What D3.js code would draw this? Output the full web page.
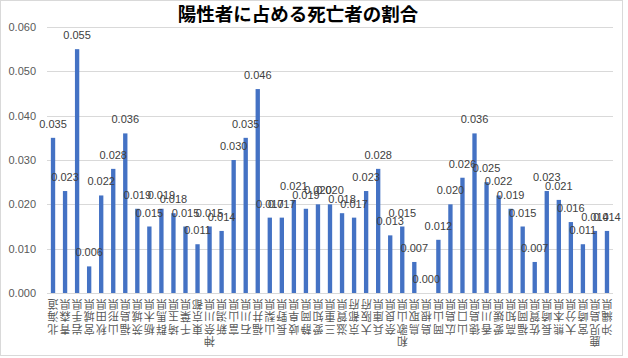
<!DOCTYPE html>
<html><head><meta charset="utf-8">
<script src="https://cdn.jsdelivr.net/npm/d3@7"></script>
<style>
html,body{margin:0;padding:0;background:#fff;}
svg text{font-family:"Noto Sans CJK JP","Noto Sans",sans-serif;}
</style>
</head><body>
<svg id="c" width="628" height="358"></svg>
<script>
const title = "陽性者に占める死亡者の割合";
const prefectures = ["北海道","青森県","岩手県","宮城県","秋田県","山形県","福島県","茨城県","栃木県","群馬県","埼玉県","千葉県","東京都","神奈川県","新潟県","富山県","石川県","福井県","山梨県","長野県","岐阜県","静岡県","愛知県","三重県","滋賀県","京都府","大阪府","兵庫県","奈良県","和歌山県","鳥取県","島根県","岡山県","広島県","山口県","徳島県","香川県","愛媛県","高知県","福岡県","佐賀県","長崎県","熊本県","大分県","宮崎県","鹿児島県","沖縄県"];
const ratios = [0.035,0.023,0.055,0.006,0.022,0.028,0.036,0.019,0.015,0.019,0.018,0.015,0.011,0.015,0.014,0.030,0.035,0.046,0.017,0.017,0.021,0.019,0.020,0.020,0.018,0.017,0.023,0.028,0.013,0.015,0.007,0.000,0.012,0.020,0.026,0.036,0.025,0.022,0.019,0.015,0.007,0.023,0.021,0.016,0.011,0.014,0.014];
const yTicks = [0,0.01,0.02,0.03,0.04,0.05,0.06];

const svg = d3.select("#c");
svg.append("rect").attr("x",0.5).attr("y",0.5).attr("width",622).attr("height",355)
  .attr("fill","#fff").attr("stroke","#d9d9d9");

const x = d3.scaleBand().domain(prefectures).range([47,613]).paddingInner(0.64).paddingOuter(0.32);
const y = d3.scaleLinear().domain([0,0.06]).range([293,27]);

// gridlines
svg.append("g").selectAll("line").data(yTicks).join("line")
  .attr("x1",47).attr("x2",613)
  .attr("y1",d=>Math.round(y(d))+0.5).attr("y2",d=>Math.round(y(d))+0.5)
  .attr("stroke","#d9d9d9").attr("stroke-width",1);

// y axis labels
const yAxis = d3.axisLeft(y).tickValues(yTicks).tickFormat(d3.format(".3f")).tickSize(0).tickPadding(0);
const ga = svg.append("g").attr("transform","translate(36,0)").call(yAxis);
ga.select(".domain").remove();
ga.selectAll("text").attr("font-size",11).attr("fill","#595959")
  .style("font-family","'Liberation Sans',Arial,sans-serif");

// bars
svg.append("g").selectAll("rect").data(ratios).join("rect")
  .attr("x",(d,i)=>x(prefectures[i]))
  .attr("width",x.bandwidth())
  .attr("y",d=>y(d))
  .attr("height",d=>y(0)-y(d))
  .attr("fill","#4472c4");

// data labels
svg.append("g").selectAll("text").data(ratios).join("text")
  .attr("x",(d,i)=>x(prefectures[i])+x.bandwidth()/2)
  .attr("y",d=>y(d)-10)
  .attr("text-anchor","middle")
  .attr("font-size",11)
  .attr("fill","#404040")
  .style("font-family","'Liberation Sans',Arial,sans-serif")
  .text(d=>d3.format(".3f")(d));

// x labels (vertical, rotated 180 as in the reference)
svg.append("g").selectAll("text").data(prefectures).join("text")
  .attr("transform",d=>`translate(${x(d)+x.bandwidth()/2},297) rotate(180)`)
  .style("writing-mode","vertical-rl")
  .style("text-orientation","upright")
  .style("letter-spacing","1.4px")
  .attr("text-anchor","end")
  .attr("dominant-baseline","central")
  .attr("font-size",11)
  .attr("fill","#595959")
  .text(d=>d);

// title
svg.append("text").attr("x",298).attr("y",21).attr("text-anchor","middle")
  .attr("font-size",18.5).attr("font-weight","bold").attr("fill","#000")
  .text(title);
</script>
</body></html>
